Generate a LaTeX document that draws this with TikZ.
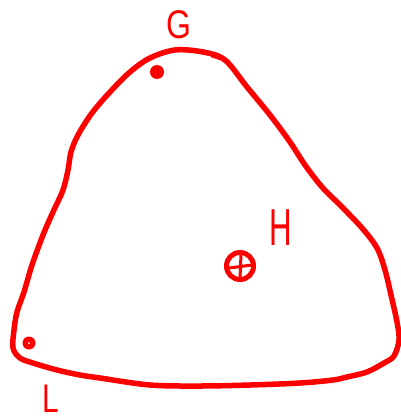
\documentclass[tikz,border=0pt]{standalone}
\usepackage{fontspec}
\setmainfont{Liberation Sans}
\begin{document}
\begin{tikzpicture}[x=1pt,y=-1pt,
  ink/.style={draw=red,line width=5.5pt,line cap=round,line join=round},
  lbl/.style={text=red,font=\fontsize{40}{40}\selectfont,inner sep=0pt}]
\useasboundingbox (0,0) rectangle (400,420);
\draw[ink] plot[smooth cycle,tension=0.55] coordinates {
 (225,60) (247,87) (270,115) (290,142) (305,165) (322,187) (342,207) (362,228)
 (377,248) (385,270) (391,295) (397,322) (399,340) (394,356) (384,363)
 (367,372) (347,377) (333,380) (300,383) (250,385) (200,386) (150,385)
 (100,378) (80,375) (57,370) (33,363) (20,358) (13,348) (14,330)
 (17,312) (24,292) (32,265) (43,235) (53,212) (63,190) (68,170) (71,152)
 (78,135) (92,113) (110,92) (130,72) (150,58) (175,50) (203,52)};
\draw[ink,line width=3pt] (212,56) -- (228,61);
\fill[red] (157,72) circle (7);
\fill[red] (29,343) circle (6.5);
\fill[white] (29,343) circle (1);
\draw[red,line width=5pt] (240,266) circle (13.5);
\draw[red,line width=3pt] (229,268) -- (252,265) (241,254) -- (240,279);
\node[lbl,xscale=0.8] (G) at (179,25) {G};
\node[lbl,xscale=0.6,font=\fontsize{52}{52}\selectfont] (H) at (281,228) {H};
\node[lbl,xscale=0.75] (L) at (51,399) {L};
\end{tikzpicture}
\end{document}
